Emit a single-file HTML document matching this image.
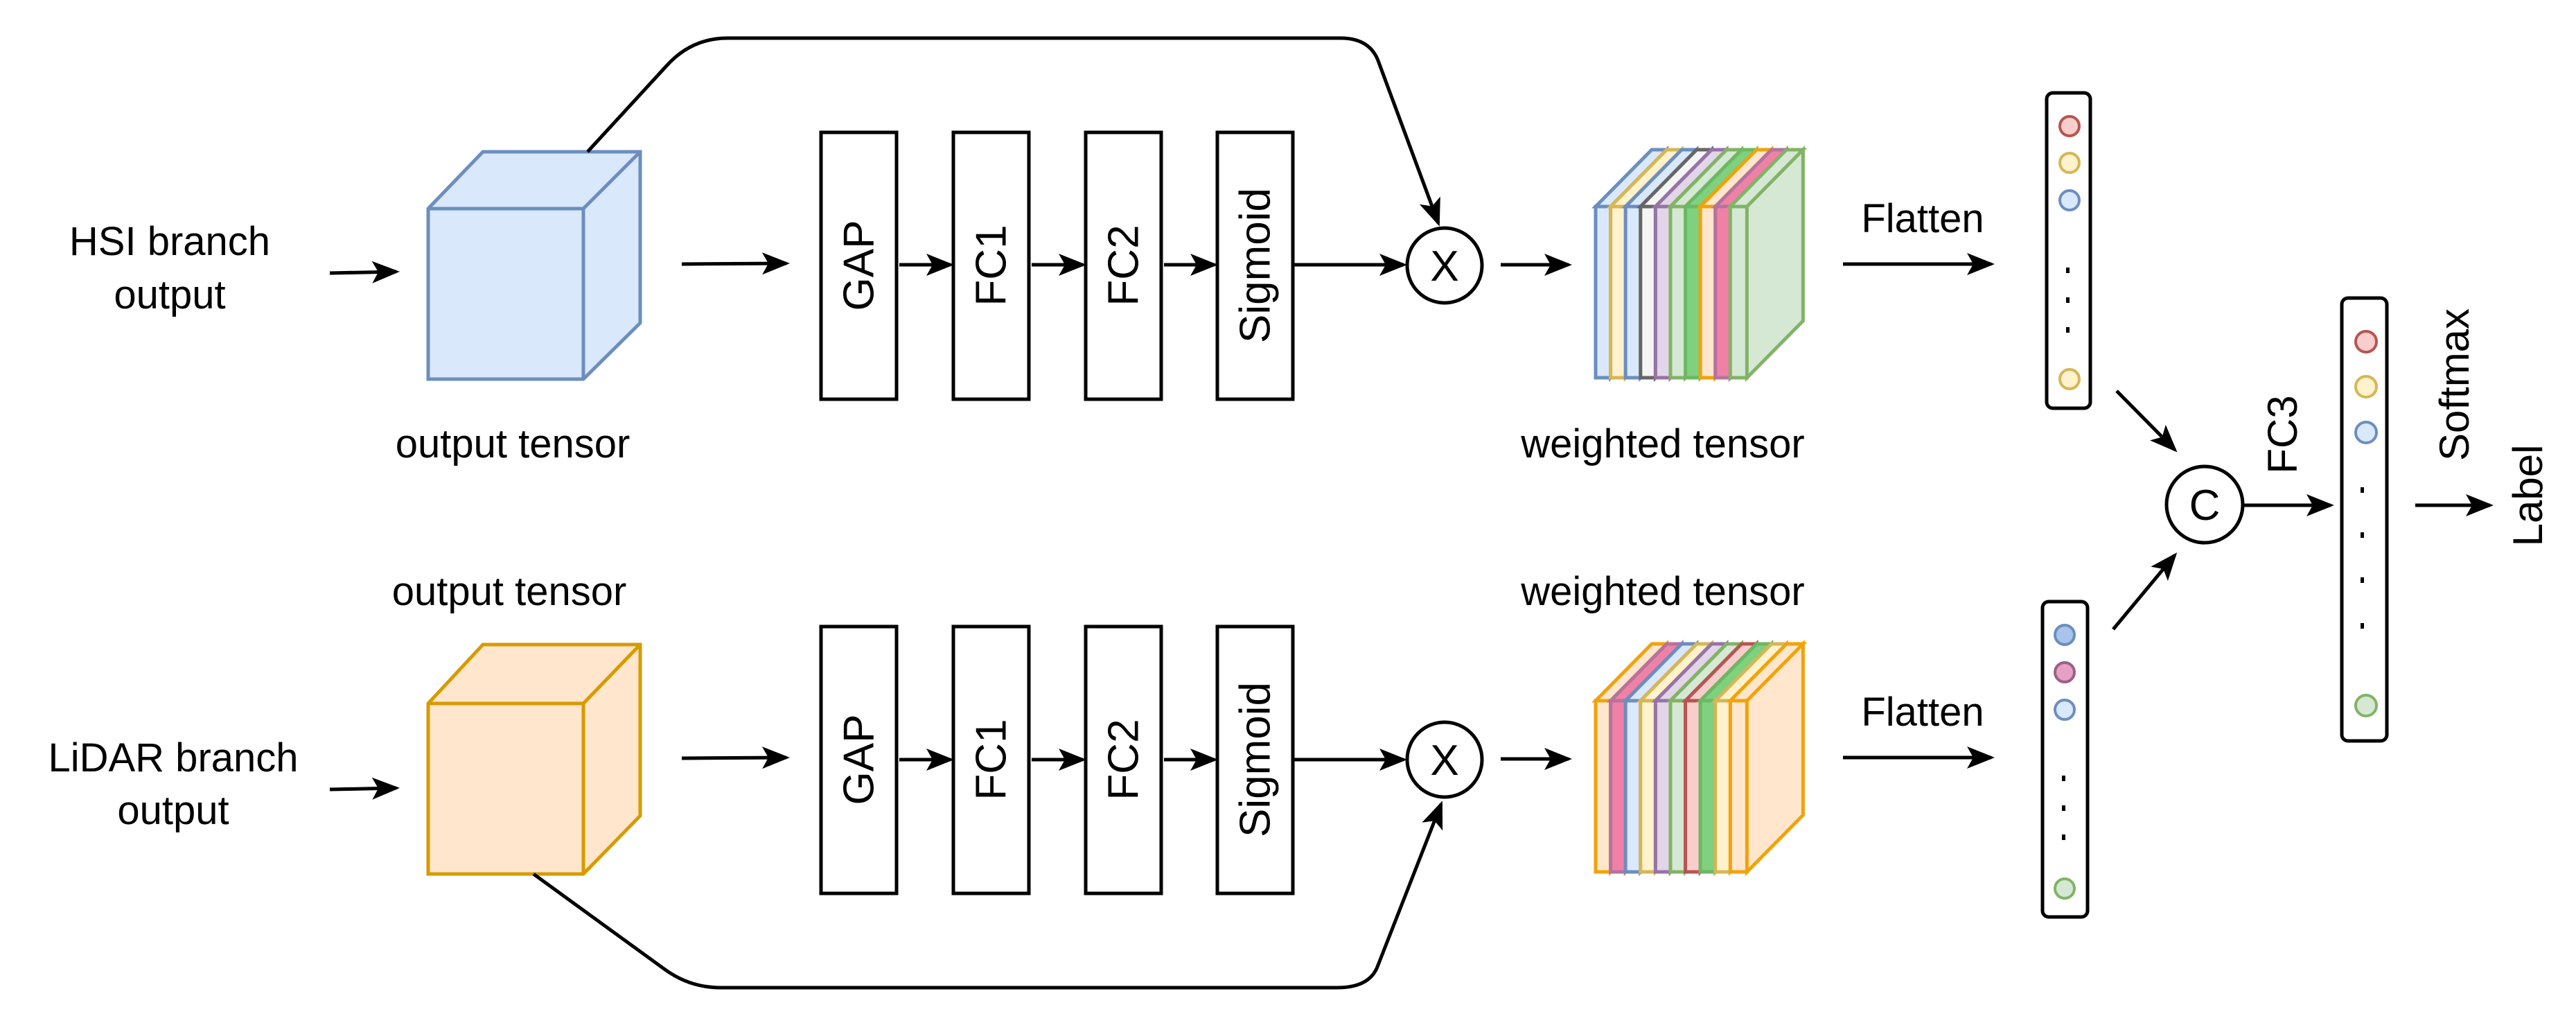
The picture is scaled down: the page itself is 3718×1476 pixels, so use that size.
<!DOCTYPE html>
<html><head><meta charset="utf-8"><style>html,body{margin:0;padding:0;background:#fff}svg{display:block}</style></head>
<body>
<svg width="3718" height="1476" viewBox="0 0 3718 1476" xmlns="http://www.w3.org/2000/svg" font-family="Liberation Sans, Arial, sans-serif">
<defs>
<marker id="ah" markerWidth="8" markerHeight="8" refX="7" refY="4" orient="auto" markerUnits="strokeWidth">
<path d="M0,0.8 L8,4 L0,7.2 L1.8,4 Z" fill="#000"/></marker>
</defs>
<g font-size="58" fill="#000" text-anchor="middle">
<text x="245" y="368">HSI branch</text>
<text x="245" y="445">output</text>
<text x="250" y="1113">LiDAR branch</text>
<text x="250" y="1189">output</text>
<text x="740" y="660">output tensor</text>
<text x="735" y="873">output tensor</text>
<text x="2400" y="660">weighted tensor</text>
<text x="2400" y="873">weighted tensor</text>
<text x="2775" y="335">Flatten</text>
<text x="2775" y="1047">Flatten</text>
</g>
<g stroke="#000" stroke-width="5" fill="none">
<line x1="476" y1="394" x2="572" y2="392" marker-end="url(#ah)"/>
<line x1="476" y1="1139" x2="572" y2="1137" marker-end="url(#ah)"/>
<line x1="984" y1="381" x2="1135" y2="380" marker-end="url(#ah)"/>
<line x1="984" y1="1094" x2="1135" y2="1093" marker-end="url(#ah)"/>
</g>
<!-- cubes -->
<g stroke-width="5" stroke-linejoin="miter">
<path d="M618,301 L697,219 L924,219 L924,466 L842,547 L618,547 Z" fill="#dae8fc" stroke="#6c8ebf"/>
<path d="M618,301 L842,301 L924,219 M842,301 L842,547" fill="none" stroke="#6c8ebf"/>
<path d="M618,1015 L697,930 L924,930 L924,1177 L842,1261 L618,1261 Z" fill="#ffe6cc" stroke="#d79b00"/>
<path d="M618,1015 L842,1015 L924,930 M842,1015 L842,1261" fill="none" stroke="#d79b00"/>
</g>
<!-- skip connections -->
<g stroke="#000" stroke-width="5" fill="none">
<path d="M848,219 L962,95 Q998,55 1050,55 L1935,55 Q1978,55 1990,90 L2076,322" marker-end="url(#ah)"/>
<path d="M770,1261 L960,1399 Q996,1425 1040,1425 L1930,1425 Q1976,1425 1988,1395 L2080,1160" marker-end="url(#ah)"/>
</g>
<!-- boxes -->
<g stroke="#000" stroke-width="5" fill="#fff">
<rect x="1185" y="191" width="109" height="385"/><rect x="1376" y="191" width="109" height="385"/>
<rect x="1567" y="191" width="109" height="385"/><rect x="1757" y="191" width="109" height="385"/>
<rect x="1185" y="904" width="109" height="385"/><rect x="1376" y="904" width="109" height="385"/>
<rect x="1567" y="904" width="109" height="385"/><rect x="1757" y="904" width="109" height="385"/>
</g>
<g font-size="62" text-anchor="middle" dominant-baseline="central">
<text transform="translate(1240,383) rotate(-90)">GAP</text>
<text transform="translate(1431,383) rotate(-90)">FC1</text>
<text transform="translate(1622,383) rotate(-90)">FC2</text>
<text transform="translate(1812,383) rotate(-90)">Sigmoid</text>
<text transform="translate(1240,1096) rotate(-90)">GAP</text>
<text transform="translate(1431,1096) rotate(-90)">FC1</text>
<text transform="translate(1622,1096) rotate(-90)">FC2</text>
<text transform="translate(1812,1096) rotate(-90)">Sigmoid</text>
</g>
<g stroke="#000" stroke-width="5" fill="none">
<line x1="1298" y1="382" x2="1372" y2="382" marker-end="url(#ah)"/>
<line x1="1489" y1="382" x2="1563" y2="382" marker-end="url(#ah)"/>
<line x1="1680" y1="382" x2="1753" y2="382" marker-end="url(#ah)"/>
<line x1="1298" y1="1096" x2="1372" y2="1096" marker-end="url(#ah)"/>
<line x1="1489" y1="1096" x2="1563" y2="1096" marker-end="url(#ah)"/>
<line x1="1680" y1="1096" x2="1753" y2="1096" marker-end="url(#ah)"/>
<line x1="1866" y1="382" x2="2026" y2="382" marker-end="url(#ah)"/>
<line x1="1866" y1="1096" x2="2026" y2="1096" marker-end="url(#ah)"/>
<line x1="2166" y1="382" x2="2264" y2="382" marker-end="url(#ah)"/>
<line x1="2166" y1="1095" x2="2264" y2="1095" marker-end="url(#ah)"/>
<line x1="2660" y1="381" x2="2874" y2="381" marker-end="url(#ah)"/>
<line x1="2660" y1="1093" x2="2874" y2="1093" marker-end="url(#ah)"/>
</g>
<g stroke="#000" stroke-width="5" fill="#fff">
<circle cx="2085" cy="383" r="54"/><circle cx="2085" cy="1096" r="54"/>
<circle cx="3182" cy="728" r="55"/>
</g>
<g font-size="62" text-anchor="middle">
<text x="2085" y="405">X</text><text x="2085" y="1118">X</text><text x="3182" y="750">C</text>
</g>
<!-- weighted tensors -->
<g stroke-width="5" stroke-linejoin="miter">
<path d="M2303,298 h21.6 v247 h-21.6 Z M2303,298 l81,-82 h21.6 l-81,82 Z M2324.6,298 l81,-82 v247 l-81,82 Z" fill="#dae8fc" stroke="#6c8ebf"/>
<path d="M2324.6,298 h21.6 v247 h-21.6 Z M2324.6,298 l81,-82 h21.6 l-81,82 Z M2346.2,298 l81,-82 v247 l-81,82 Z" fill="#fff2cc" stroke="#d6b656"/>
<path d="M2346.2,298 h21.6 v247 h-21.6 Z M2346.2,298 l81,-82 h21.6 l-81,82 Z M2367.8,298 l81,-82 v247 l-81,82 Z" fill="#dae8fc" stroke="#6c8ebf"/>
<path d="M2367.8,298 h21.6 v247 h-21.6 Z M2367.8,298 l81,-82 h21.6 l-81,82 Z M2389.4,298 l81,-82 v247 l-81,82 Z" fill="#f5f5f5" stroke="#666666"/>
<path d="M2389.4,298 h21.6 v247 h-21.6 Z M2389.4,298 l81,-82 h21.6 l-81,82 Z M2411,298 l81,-82 v247 l-81,82 Z" fill="#e1d5e7" stroke="#9673a6"/>
<path d="M2411,298 h21.6 v247 h-21.6 Z M2411,298 l81,-82 h21.6 l-81,82 Z M2432.6,298 l81,-82 v247 l-81,82 Z" fill="#d5e8d4" stroke="#82b366"/>
<path d="M2432.6,298 h21.6 v247 h-21.6 Z M2432.6,298 l81,-82 h21.6 l-81,82 Z M2454.2,298 l81,-82 v247 l-81,82 Z" fill="#7fd07f" stroke="#6cb863"/>
<path d="M2454.2,298 h21.6 v247 h-21.6 Z M2454.2,298 l81,-82 h21.6 l-81,82 Z M2475.8,298 l81,-82 v247 l-81,82 Z" fill="#ffe6cc" stroke="#f0a30a"/>
<path d="M2475.8,298 h21.6 v247 h-21.6 Z M2475.8,298 l81,-82 h21.6 l-81,82 Z M2497.4,298 l81,-82 v247 l-81,82 Z" fill="#f081a6" stroke="#b5739d"/>
<path d="M2497.4,298 h24 v247 h-24 Z M2497.4,298 l81,-82 h24 l-81,82 Z M2521.4,298 l81,-82 v247 l-81,82 Z" fill="#d5e8d4" stroke="#82b366"/>
</g>
<g stroke-width="5" stroke-linejoin="miter">
<path d="M2303,1011 h21.6 v247 h-21.6 Z M2303,1011 l81,-82 h21.6 l-81,82 Z M2324.6,1011 l81,-82 v247 l-81,82 Z" fill="#ffe6cc" stroke="#f0a30a"/>
<path d="M2324.6,1011 h21.6 v247 h-21.6 Z M2324.6,1011 l81,-82 h21.6 l-81,82 Z M2346.2,1011 l81,-82 v247 l-81,82 Z" fill="#f081a6" stroke="#b5739d"/>
<path d="M2346.2,1011 h21.6 v247 h-21.6 Z M2346.2,1011 l81,-82 h21.6 l-81,82 Z M2367.8,1011 l81,-82 v247 l-81,82 Z" fill="#dae8fc" stroke="#6c8ebf"/>
<path d="M2367.8,1011 h21.6 v247 h-21.6 Z M2367.8,1011 l81,-82 h21.6 l-81,82 Z M2389.4,1011 l81,-82 v247 l-81,82 Z" fill="#fff2cc" stroke="#d6b656"/>
<path d="M2389.4,1011 h21.6 v247 h-21.6 Z M2389.4,1011 l81,-82 h21.6 l-81,82 Z M2411,1011 l81,-82 v247 l-81,82 Z" fill="#e1d5e7" stroke="#9673a6"/>
<path d="M2411,1011 h21.6 v247 h-21.6 Z M2411,1011 l81,-82 h21.6 l-81,82 Z M2432.6,1011 l81,-82 v247 l-81,82 Z" fill="#d5e8d4" stroke="#82b366"/>
<path d="M2432.6,1011 h21.6 v247 h-21.6 Z M2432.6,1011 l81,-82 h21.6 l-81,82 Z M2454.2,1011 l81,-82 v247 l-81,82 Z" fill="#f8cecc" stroke="#b85450"/>
<path d="M2454.2,1011 h21.6 v247 h-21.6 Z M2454.2,1011 l81,-82 h21.6 l-81,82 Z M2475.8,1011 l81,-82 v247 l-81,82 Z" fill="#7fd07f" stroke="#6cb863"/>
<path d="M2475.8,1011 h21.6 v247 h-21.6 Z M2475.8,1011 l81,-82 h21.6 l-81,82 Z M2497.4,1011 l81,-82 v247 l-81,82 Z" fill="#fff2cc" stroke="#d6b656"/>
<path d="M2497.4,1011 h24 v247 h-24 Z M2497.4,1011 l81,-82 h24 l-81,82 Z M2521.4,1011 l81,-82 v247 l-81,82 Z" fill="#ffe6cc" stroke="#f0a30a"/>
</g>
<!-- vectors -->
<g stroke="#000" stroke-width="5" fill="#fff">
<rect x="2954" y="134" width="63" height="455" rx="9"/>
<rect x="2948" y="868" width="65" height="455" rx="9"/>
<rect x="3380" y="430" width="65" height="639" rx="9"/>
</g>
<g stroke-width="4">
<circle cx="2987" cy="182" r="14" fill="#f8cecc" stroke="#b85450"/>
<circle cx="2987" cy="235" r="14" fill="#fff2cc" stroke="#d6b656"/>
<circle cx="2987" cy="289" r="14" fill="#dae8fc" stroke="#6c8ebf"/>
<circle cx="2987" cy="547" r="14" fill="#fff2cc" stroke="#d6b656"/>
<circle cx="2980" cy="916" r="14" fill="#a9c4eb" stroke="#6c8ebf"/>
<circle cx="2980" cy="970" r="14" fill="#e6a0c4" stroke="#996185"/>
<circle cx="2980" cy="1024" r="14" fill="#dae8fc" stroke="#6c8ebf"/>
<circle cx="2980" cy="1282" r="14" fill="#d5e8d4" stroke="#82b366"/>
<circle cx="3415" cy="493" r="15" fill="#f8cecc" stroke="#b85450"/>
<circle cx="3415" cy="558" r="15" fill="#fff2cc" stroke="#d6b656"/>
<circle cx="3415" cy="624" r="15" fill="#dae8fc" stroke="#6c8ebf"/>
<circle cx="3415" cy="1018" r="15" fill="#d5e8d4" stroke="#82b366"/>
</g>
<g fill="#000">
<rect x="2982" y="386" width="5" height="8"/><rect x="2982" y="429" width="5" height="8"/><rect x="2982" y="472" width="5" height="8"/>
<rect x="2976" y="1119" width="5" height="8"/><rect x="2976" y="1162" width="5" height="8"/><rect x="2976" y="1204" width="5" height="8"/>
<rect x="3407" y="703" width="5" height="8"/><rect x="3407" y="768" width="5" height="8"/><rect x="3407" y="833" width="5" height="8"/><rect x="3407" y="899" width="5" height="8"/>
</g>
<g stroke="#000" stroke-width="5" fill="none">
<line x1="3055" y1="564" x2="3139" y2="649" marker-end="url(#ah)"/>
<line x1="3050" y1="908" x2="3139" y2="801" marker-end="url(#ah)"/>
<line x1="3237" y1="729" x2="3364" y2="729" marker-end="url(#ah)"/>
<line x1="3486" y1="729" x2="3594" y2="729" marker-end="url(#ah)"/>
</g>
<g font-size="60" text-anchor="middle">
<text transform="translate(3315,627) rotate(-90)">FC3</text>
<text transform="translate(3563,555) rotate(-90)">Softmax</text>
<text transform="translate(3669,715) rotate(-90)">Label</text>
</g>
</svg>
</body></html>
